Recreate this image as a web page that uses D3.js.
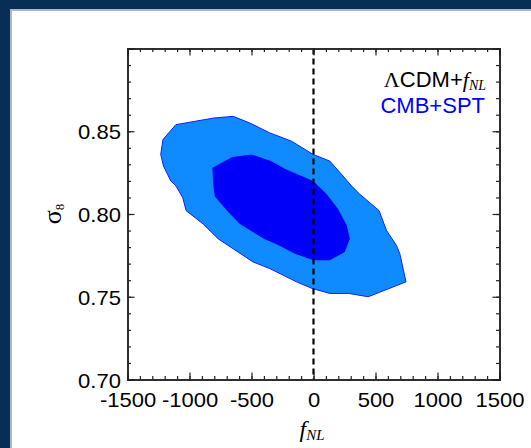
<!DOCTYPE html>
<html>
<head>
<meta charset="utf-8">
<script src="https://cdn.jsdelivr.net/npm/d3@7"></script>
<style>
  html, body { margin: 0; padding: 0; background: #082d57; }
  svg { display: block; }
</style>
</head>
<body>
<script>
// Ejes
const fnlMajor = [-1500, -1000, -500, 0, 500, 1000, 1500];
const sigmaMajor = [0.70, 0.75, 0.80, 0.85];

// Contornos (fNL, sigma8)
const contour95 = [
  [-1110, 0.854], [-1214, 0.845], [-1232, 0.836], [-1210, 0.829], [-1151, 0.820],
  [-1110, 0.817], [-1055, 0.810], [-1027, 0.802], [-890, 0.794], [-769, 0.785],
  [-648, 0.779], [-487, 0.771], [-352, 0.767], [-137, 0.759], [-10, 0.755],
  [131, 0.752], [285, 0.752], [441, 0.750], [746, 0.759], [696, 0.776],
  [669, 0.781], [589, 0.790], [529, 0.802], [373, 0.812], [306, 0.817],
  [226, 0.824], [131, 0.832], [-3, 0.836], [-177, 0.844], [-352, 0.849],
  [-514, 0.855], [-647, 0.859], [-804, 0.858]
];
const contour68 = [
  [-815, 0.828], [-655, 0.8345], [-498, 0.836], [-344, 0.832], [-223, 0.827],
  [-3, 0.820], [107, 0.812], [198, 0.803], [269, 0.793], [293, 0.785],
  [252, 0.777], [131, 0.772], [0, 0.772], [-151, 0.776], [-277, 0.781],
  [-401, 0.785], [-594, 0.794], [-686, 0.801], [-796, 0.8105], [-810, 0.818]
];

const W = 531, H = 448;
const plot = { left: 127.5, right: 499.5, top: 48.5, bottom: 379.5 };
const sans = '"Liberation Sans", Arial, Helvetica, sans-serif';
const serif = '"Liberation Serif", "Times New Roman", serif';

const svg = d3.select('body').append('svg').attr('width', W).attr('height', H);

// Marco
svg.append('rect').attr('width', W).attr('height', H).attr('fill', '#082d57');
svg.append('rect').attr('x', 10).attr('y', 9).attr('width', W - 10).attr('height', H - 9).attr('fill', '#aab8ca');
svg.append('rect').attr('x', 12).attr('y', 11).attr('width', W - 12).attr('height', H - 11).attr('fill', '#ffffff');

const x = d3.scaleLinear().domain([-1500, 1500]).range([plot.left, plot.right]);
const y = d3.scaleLinear().domain([0.70, 0.90]).range([plot.bottom, plot.top]);

const line = d3.line().x(d => x(d[0])).y(d => y(d[1])).curve(d3.curveLinearClosed);

svg.append('path').attr('d', line(contour95))
  .attr('fill', '#0f8bff').attr('stroke', '#1020ff').attr('stroke-width', 1);
svg.append('path').attr('d', line(contour68))
  .attr('fill', '#0000f8');

// Línea vertical en fNL = 0
svg.append('line')
  .attr('x1', x(0)).attr('x2', x(0)).attr('y1', plot.top).attr('y2', plot.bottom)
  .attr('stroke', '#000').attr('stroke-width', 2.2).attr('stroke-dasharray', '6,4');

// Ejes con marcas hacia dentro
const fnlMinor = d3.range(-1500, 1501, 100);
const sigmaMinor = d3.range(70, 91).map(v => v / 100);
const styleAxis = g => {
  g.select('.domain').attr('stroke', '#222').attr('stroke-width', 1.5);
  g.selectAll('.tick line').attr('stroke', '#222').attr('stroke-width', 1.2);
};

const addAxis = (axisFn, scale, major, minor, tx, ty, labels, fmt) => {
  svg.append('g').attr('transform', `translate(${tx},${ty})`)
    .call(axisFn(scale).tickValues(minor).tickSize(-3.5).tickFormat(''))
    .call(styleAxis);
  const g = svg.append('g').attr('transform', `translate(${tx},${ty})`)
    .call(axisFn(scale).tickValues(major).tickSize(-7).tickPadding(labels ? 13 : 0).tickFormat(labels ? fmt : ''))
    .call(styleAxis);
  g.selectAll('text').attr('font-family', sans).attr('font-size', 20).attr('fill', '#000')
    .attr('transform', 'scale(1.1,1)');
  return g;
};

addAxis(d3.axisBottom, x, fnlMajor, fnlMinor, 0, plot.bottom, true, d => String(d));
addAxis(d3.axisTop, x, fnlMajor, fnlMinor, 0, plot.top, false);
const gl = addAxis(d3.axisLeft, y, sigmaMajor, sigmaMinor, plot.left, 0, true, d3.format('.2f'));
gl.selectAll('text').attr('x', -6).attr('dy', '0.38em');
addAxis(d3.axisRight, y, sigmaMajor, sigmaMinor, plot.right, 0, false);

// Etiquetas de ejes
const xl = svg.append('text').attr('x', 312).attr('y', 437).attr('text-anchor', 'middle')
  .attr('font-family', serif).attr('font-style', 'italic');
xl.append('tspan').attr('font-size', 24).text('f');
xl.append('tspan').attr('font-size', 15).attr('dy', 3).text('NL');

const yl = svg.append('text').attr('transform', `translate(61,214) rotate(-90)`)
  .attr('text-anchor', 'middle').attr('font-family', serif);
yl.append('tspan').attr('font-size', 26).text('σ');
yl.append('tspan').attr('font-size', 13).attr('dy', 3).text('8');

// Leyenda
const lg1 = svg.append('text').attr('x', 486).attr('y', 87).attr('text-anchor', 'end')
  .attr('font-size', 22).attr('fill', '#000');
lg1.append('tspan').attr('font-family', serif).text('Λ');
lg1.append('tspan').attr('font-family', sans).text('CDM+');
lg1.append('tspan').attr('font-family', serif).attr('font-style', 'italic').text('f');
lg1.append('tspan').attr('font-family', serif).attr('font-style', 'italic').attr('font-size', 14).attr('dy', 3).text('NL');

svg.append('text').attr('x', 485).attr('y', 113).attr('text-anchor', 'end')
  .attr('font-family', sans).attr('font-size', 22).attr('fill', '#0000ff').text('CMB+SPT');
</script>
</body>
</html>
